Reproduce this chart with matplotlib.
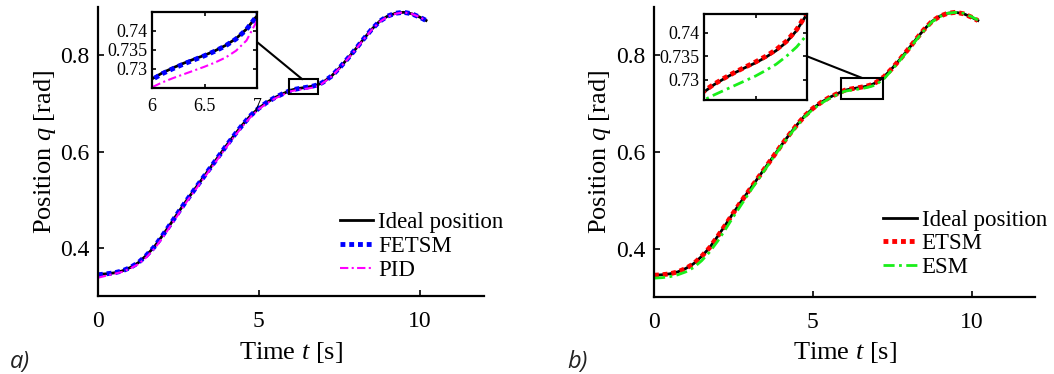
import matplotlib
matplotlib.use('Agg')
import matplotlib.pyplot as plt
from matplotlib.patches import Rectangle, ConnectionPatch

# ---------------- data ----------------
t = [0.0, 0.25, 0.5, 0.75, 1.0, 1.25, 1.5, 1.75, 2.0, 2.25, 2.5, 2.75, 3.0, 3.25,
     3.5, 3.75, 4.0, 4.25, 4.5, 4.75, 5.0, 5.25, 5.5, 5.75,
     6.0, 6.1, 6.2, 6.3, 6.4, 6.5, 6.6, 6.7, 6.8, 6.9, 7.0,
     7.25, 7.5, 7.75, 8.0, 8.25, 8.5, 8.75, 9.0, 9.25, 9.5, 9.75, 10.0, 10.2]

ideal = [0.345, 0.346, 0.348, 0.352, 0.359, 0.369, 0.384, 0.402, 0.425, 0.449,
         0.474, 0.498, 0.521, 0.544, 0.567, 0.590, 0.613, 0.635, 0.656, 0.675,
         0.690, 0.702, 0.712, 0.720,
         0.7274, 0.7290, 0.7303, 0.7315, 0.7326, 0.7336, 0.7348, 0.7362, 0.7380,
         0.7405, 0.7440,
         0.756, 0.773, 0.792, 0.812, 0.833, 0.853, 0.870, 0.881, 0.887, 0.889,
         0.886, 0.879, 0.872]

fetsm = [0.344, 0.346, 0.348, 0.352, 0.359, 0.369, 0.384, 0.402, 0.425, 0.449,
         0.474, 0.498, 0.521, 0.544, 0.567, 0.590, 0.613, 0.635, 0.656, 0.675,
         0.690, 0.702, 0.712, 0.720,
         0.7272, 0.7288, 0.7301, 0.7313, 0.7324, 0.7335, 0.7347, 0.7361, 0.7379,
         0.7404, 0.7440,
         0.756, 0.773, 0.792, 0.812, 0.833, 0.853, 0.870, 0.881, 0.887, 0.889,
         0.886, 0.879, 0.872]

pid = [0.338, 0.342, 0.346, 0.350, 0.357, 0.366, 0.380, 0.398, 0.420, 0.445,
       0.470, 0.495, 0.518, 0.541, 0.564, 0.587, 0.610, 0.632, 0.653, 0.672,
       0.688, 0.700, 0.710, 0.718,
       0.7252, 0.7265, 0.7276, 0.7286, 0.7296, 0.7306, 0.7317, 0.7330, 0.7348,
       0.7375, 0.7427,
       0.755, 0.772, 0.791, 0.811, 0.832, 0.852, 0.869, 0.880, 0.886, 0.889,
       0.886, 0.879, 0.872]

etsm = [0.345, 0.346, 0.348, 0.352, 0.359, 0.369, 0.384, 0.402, 0.425, 0.449,
        0.474, 0.498, 0.521, 0.544, 0.567, 0.590, 0.613, 0.635, 0.656, 0.675,
        0.690, 0.702, 0.712, 0.720,
        0.7276, 0.7291, 0.7304, 0.7316, 0.7327, 0.7338, 0.7350, 0.7364, 0.7382,
        0.7407, 0.7442,
        0.756, 0.773, 0.792, 0.812, 0.833, 0.853, 0.870, 0.881, 0.887, 0.889,
        0.886, 0.879, 0.872]

esm = [0.339, 0.340, 0.342, 0.346, 0.352, 0.361, 0.375, 0.393, 0.415, 0.440,
       0.466, 0.491, 0.516, 0.540, 0.564, 0.588, 0.611, 0.633, 0.654, 0.673,
       0.688, 0.700, 0.710, 0.718,
       0.7257, 0.7268, 0.7278, 0.7288, 0.7298, 0.7308, 0.7320, 0.7333, 0.7350,
       0.7370, 0.7396,
       0.752, 0.770, 0.790, 0.810, 0.831, 0.851, 0.869, 0.880, 0.887, 0.889,
       0.887, 0.880, 0.873]

xticks_main = [0, 5, 10]
yticks_main = [0.4, 0.6, 0.8]
xticks_inset = [6, 6.5, 7]
yticks_inset = [0.73, 0.735, 0.74]

# ---------------- style ----------------
plt.rcParams['font.family'] = 'Liberation Serif'
plt.rcParams['mathtext.fontset'] = 'custom'
plt.rcParams['mathtext.rm'] = 'Liberation Serif'
plt.rcParams['mathtext.it'] = 'Liberation Serif:italic'

W, H = 1054, 374
fig = plt.figure(figsize=(W / 100, H / 100), dpi=100)


def px_rect(x0, y0, x1, y1):
    return [x0 / W, 1 - y1 / H, (x1 - x0) / W, (y1 - y0) / H]


DOT = (1.0, 0.8)
DASHDOT = (4, 1.6, 1, 1.6)


def style_main(ax):
    ax.set_xlim(0, 12)
    ax.set_ylim(0.3, 0.9)
    ax.set_xticks(xticks_main)
    ax.set_xticklabels([str(v) for v in xticks_main])
    ax.set_yticks(yticks_main)
    ax.set_yticklabels(['%.1f' % v for v in yticks_main])
    for s in ['top', 'right']:
        ax.spines[s].set_visible(False)
    for s in ['left', 'bottom']:
        ax.spines[s].set_linewidth(1.6)
    ax.tick_params(direction='in', length=4, width=1.2, labelsize=17)
    ax.tick_params(axis='x', pad=11)
    ax.tick_params(axis='y', pad=6)
    ax.set_xlabel('Time $t$ [s]', fontsize=19, va='center')
    ax.set_ylabel('Position $q$ [rad]', fontsize=19, va='center')


def style_inset(axi, ylim, xlabels=True):
    axi.set_xlim(6, 7)
    axi.set_ylim(*ylim)
    axi.set_xticks(xticks_inset)
    axi.set_xticklabels(['6', '6.5', '7'])
    axi.set_yticks(yticks_inset)
    axi.set_yticklabels(['0.73', '0.735', '0.74'])
    for s in axi.spines.values():
        s.set_linewidth(1.6)
    axi.tick_params(direction='in', length=3, width=1.2, labelsize=13,
                    top=True, right=True)
    axi.tick_params(axis='x', pad=7, labelbottom=xlabels)
    axi.tick_params(axis='y', pad=3)


# ---------------- panel a ----------------
axa = fig.add_axes(px_rect(98, 7, 484, 296))
axa.plot(t, ideal, color='black', lw=2, label='Ideal position')
axa.plot(t, fetsm, color='#0000ff', lw=3.5, dashes=DOT, label='FETSM')
axa.plot(t, pid, color='#ff00ff', lw=1.5, dashes=DASHDOT, label='PID')
style_main(axa)
axa.xaxis.set_label_coords(0.5, -0.194)
axa.yaxis.set_label_coords(-0.137, 0.5)
axa.add_patch(Rectangle((5.95, 0.72), 0.9, 0.03, fill=False, lw=1.5,
                        edgecolor='black', zorder=5))
axa.legend(loc='upper left', bbox_to_anchor=(340 / W, 1 - 212 / H),
           bbox_transform=fig.transFigure, frameon=False, fontsize=16.5,
           handlelength=1.45, handletextpad=0.22, labelspacing=0.12,
           borderpad=0, borderaxespad=0)

ina = fig.add_axes(px_rect(152, 12, 257, 88))
ina.plot(t, ideal, color='black', lw=2)
ina.plot(t, fetsm, color='#0000ff', lw=3.5, dashes=DOT)
ina.plot(t, pid, color='#ff00ff', lw=1.5, dashes=DASHDOT)
style_inset(ina, (0.725, 0.745), xlabels=True)
fig.add_artist(ConnectionPatch(xyA=(7, 0.7371), coordsA=ina.transData,
                               xyB=(6.35, 0.75), coordsB=axa.transData,
                               lw=1.5, color='black'))

# ---------------- panel b ----------------
axb = fig.add_axes(px_rect(654, 7, 1035, 297))
axb.plot(t, ideal, color='black', lw=2, label='Ideal position')
axb.plot(t, etsm, color='#ff0000', lw=3.5, dashes=DOT, label='ETSM')
axb.plot(t, esm, color='#1aee1a', lw=2, dashes=DASHDOT, label='ESM')
style_main(axb)
axb.xaxis.set_label_coords(0.5, -0.193)
axb.yaxis.set_label_coords(-0.142, 0.5)
axb.add_patch(Rectangle((5.9, 0.71), 1.32, 0.043, fill=False, lw=1.5,
                        edgecolor='black', zorder=5))
axb.legend(loc='upper left', bbox_to_anchor=(883 / W, 1 - 210 / H),
           bbox_transform=fig.transFigure, frameon=False, fontsize=16.5,
           handlelength=1.5, handletextpad=0.18, labelspacing=0.1,
           borderpad=0, borderaxespad=0)

inb = fig.add_axes(px_rect(704, 14, 807, 100))
inb.plot(t, ideal, color='black', lw=2)
inb.plot(t, etsm, color='#ff0000', lw=3.5, dashes=DOT)
inb.plot(t, esm, color='#1aee1a', lw=2, dashes=DASHDOT)
style_inset(inb, (0.7257, 0.744), xlabels=False)
fig.add_artist(ConnectionPatch(xyA=(7, 0.7350), coordsA=inb.transData,
                               xyB=(6.56, 0.753), coordsB=axb.transData,
                               lw=1.5, color='black'))

# ---------------- panel tags ----------------
fig.text(10 / W, 1 - 362 / H, 'a)', family=['Open Sans', 'DejaVu Sans'],
         style='italic', fontsize=17, va='center', ha='left', color='#222222')
fig.text(567 / W, 1 - 362 / H, 'b)', family=['Open Sans', 'DejaVu Sans'],
         style='italic', fontsize=17, va='center', ha='left', color='#222222')

fig.savefig('out.png', dpi=100)
